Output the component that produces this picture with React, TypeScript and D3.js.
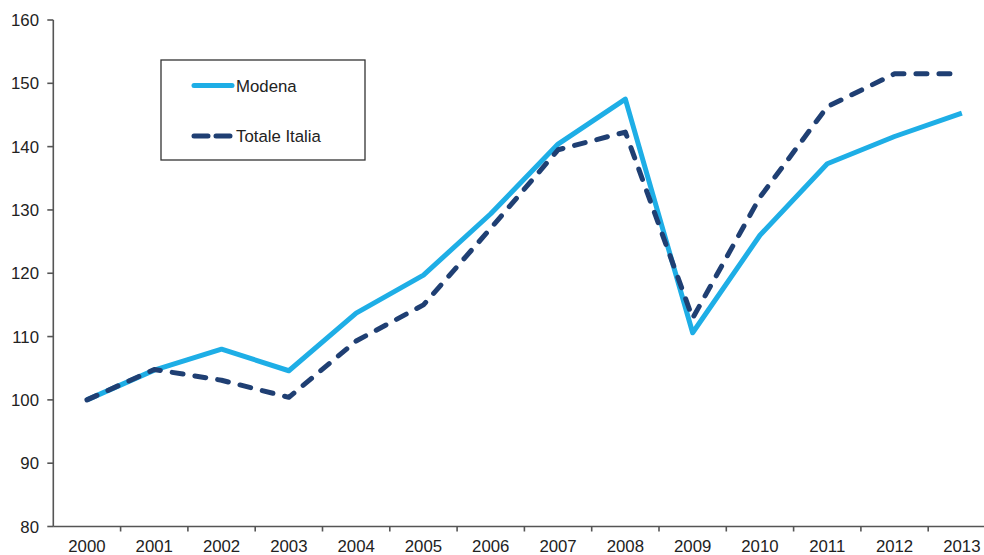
import React from "react";
import * as d3 from "d3";

const years = ["2000","2001","2002","2003","2004","2005","2006","2007","2008","2009","2010","2011","2012","2013"];
const modena = [100, 104.7, 108, 104.6, 113.7, 119.7, 129.4, 140.4, 147.5, 110.6, 126, 137.3, 141.6, 145.3];
const italia = [100, 104.8, 103.1, 100.4, 109.3, 115, 127.1, 139.5, 142.3, 112.9, 132, 146.3, 151.5, 151.5];
const yTicks = [80, 90, 100, 110, 120, 130, 140, 150, 160];
const seriesNames = ["Modena", "Totale Italia"];

const W = 984, H = 555;
const left = 53.3, bandW = 67.3;
const top = 20, bottom = 526.5;

export default function App() {
  const x = d3.scaleBand<string>().domain(years).range([left, left + bandW * years.length]).paddingInner(0).paddingOuter(0);
  const y = d3.scaleLinear().domain([80, 160]).range([bottom, top]);
  const cx = (d: string) => (x(d) as number) + x.bandwidth() / 2;
  const line = d3.line<number>().x((_, i) => cx(years[i])).y((v) => y(v));
  const font = "'Liberation Sans', Arial, sans-serif";
  const axisColor = "#555";
  const textColor = "#222";
  const light = "#1eaee6";
  const dark = "#1f3f73";
  return (
    <svg width={W} height={H} style={{ position: "absolute", left: 0, top: 0, background: "#fff" }} fontFamily={font}>
      {/* y axis */}
      <line x1={left} x2={left} y1={top} y2={bottom} stroke={axisColor} strokeWidth={1.6} />
      {yTicks.map((t) => (
        <g key={t}>
          <line x1={left - 6} x2={left} y1={y(t)} y2={y(t)} stroke={axisColor} strokeWidth={1.6} />
          <text x={39} y={y(t)} dy="0.36em" textAnchor="end" fontSize={16.8} fill={textColor}>{t}</text>
        </g>
      ))}
      {/* x axis */}
      <line x1={left} x2={left + bandW * years.length} y1={bottom} y2={bottom} stroke={axisColor} strokeWidth={1.6} />
      {years.map((yr, i) => (
        <g key={yr}>
          {i > 0 && (
            <line x1={x(yr) as number} x2={x(yr) as number} y1={bottom} y2={bottom + 5} stroke={axisColor} strokeWidth={1.6} />
          )}
          <text x={cx(yr)} y={552} textAnchor="middle" fontSize={16.8} fill={textColor}>{yr}</text>
        </g>
      ))}
      {/* series */}
      <path d={line(modena) as string} fill="none" stroke={light} strokeWidth={5} strokeLinejoin="round" />
      <path d={line(italia) as string} fill="none" stroke={dark} strokeWidth={5} strokeDasharray="11 12" strokeLinecap="round" strokeLinejoin="round" />
      {/* legend */}
      <rect x={161} y={60} width={204} height={100} fill="#fff" stroke="#333" strokeWidth={1.3} />
      <line x1={194} x2={232} y1={85.5} y2={85.5} stroke={light} strokeWidth={5} strokeLinecap="round" />
      <text x={236} y={85.5} dy="0.36em" fontSize={16.8} fill={textColor}>{seriesNames[0]}</text>
      <line x1={194} x2={232} y1={136} y2={136} stroke={dark} strokeWidth={5} strokeDasharray="14 8" strokeLinecap="round" />
      <text x={236} y={136} dy="0.36em" fontSize={16.8} fill={textColor}>{seriesNames[1]}</text>
    </svg>
  );
}
